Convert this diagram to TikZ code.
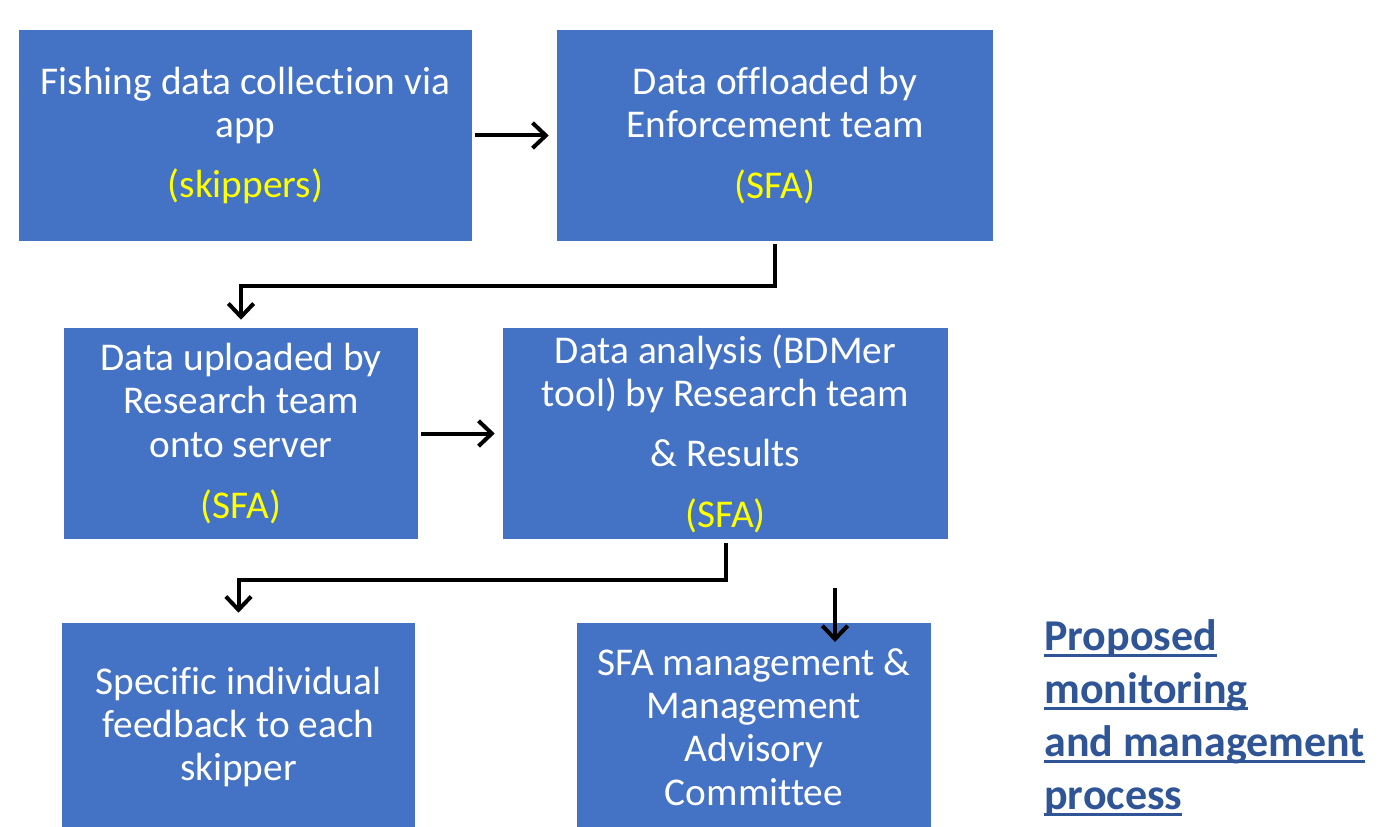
\documentclass[tikz,border=0pt]{standalone}
\usepackage{fontspec}
\setmainfont{Carlito}[Ligatures=NoCommon]
\usetikzlibrary{arrows.meta}

\definecolor{boxblue}{RGB}{68,114,196}
\definecolor{tagyellow}{RGB}{255,255,0}
\definecolor{titleblue}{RGB}{47,85,151}

\newsavebox{\ulbox}
\newcommand{\uln}[1]{\sbox{\ulbox}{#1}\rlap{\rule[-5pt]{\wd\ulbox}{2.4pt}}\usebox{\ulbox}}
\newcommand{\who}[1]{\textcolor{tagyellow}{#1}}

\tikzset{
  box/.style={fill=boxblue, text=white, align=center, inner sep=0pt,
    font=\fontsize{29.5}{32.4}\selectfont},
  arr/.style={line width=3pt, -{Straight Barb[length=10pt,width=19pt]}}
}

\begin{document}
\begin{tikzpicture}[x=0.75pt,y=0.75pt,yscale=-1]
\useasboundingbox (0,0) rectangle (1394,827);

%Shape: Rectangle -- top row
\node[box, minimum width=339.75pt, minimum height=158.25pt] (b1) at (245.5,135.5)
  {Fishing data collection via\\ app\\[12pt] \who{(skippers)}};
\node[box, minimum width=327pt, minimum height=158.25pt] (b2) at (775,135.5)
  {Data offloaded by\\ Enforcement team\\[13pt] \who{(SFA)}};

%Shape: Rectangle -- middle row
\node[box, minimum width=265.5pt, minimum height=158.25pt] (b3) at (241,433.5)
  {Data uploaded by\\ Research team\\ onto server\\[13.5pt] \who{(SFA)}};
\node[box, minimum width=333.75pt, minimum height=158.25pt] (b4) at (725.5,433.5)
  {Data analysis (BDMer\\ tool) by Research team\\[13pt] \& Results\\[13pt] \who{(SFA)}};

%Shape: Rectangle -- bottom row
\node[box, minimum width=264.75pt, minimum height=156pt] (b5) at (238.5,727)
  {Specific individual\\ feedback to each\\ skipper};
\node[box, minimum width=265.5pt, minimum height=156pt] (b6) at (754,727)
  {SFA management \&\\ Management\\ Advisory\\ Committee};

%Straight Lines
\draw[arr, shorten <=2pt, shorten >=6pt] (b1.east) -- (b2.west);
\draw[arr, shorten <=2pt, shorten >=6pt] (b3.east) -- (b4.west);

%Elbow Lines
\draw[arr, shorten <=2pt, shorten >=6pt] (b2.south) -- ++(0,45) -| (b3.north);
\draw[arr, shorten <=3pt, shorten >=7.5pt] (b4.south) -- ++(0,41) -| (b5.north);

%Straight Lines -- into the committee box
\coordinate (c5) at (835,588);
\coordinate (c5e) at (835,642);
\draw[arr] (c5) -- (c5e);

% Text Node
\node[anchor=north west, align=left, inner sep=0pt, text=titleblue,
  font=\bfseries\fontsize{33}{39.75}\selectfont] (title) at (1044,619)
  {\uln{Proposed}\\ \uln{monitoring}\\ \uln{and management}\\ \uln{process}};

\end{tikzpicture}
\end{document}
